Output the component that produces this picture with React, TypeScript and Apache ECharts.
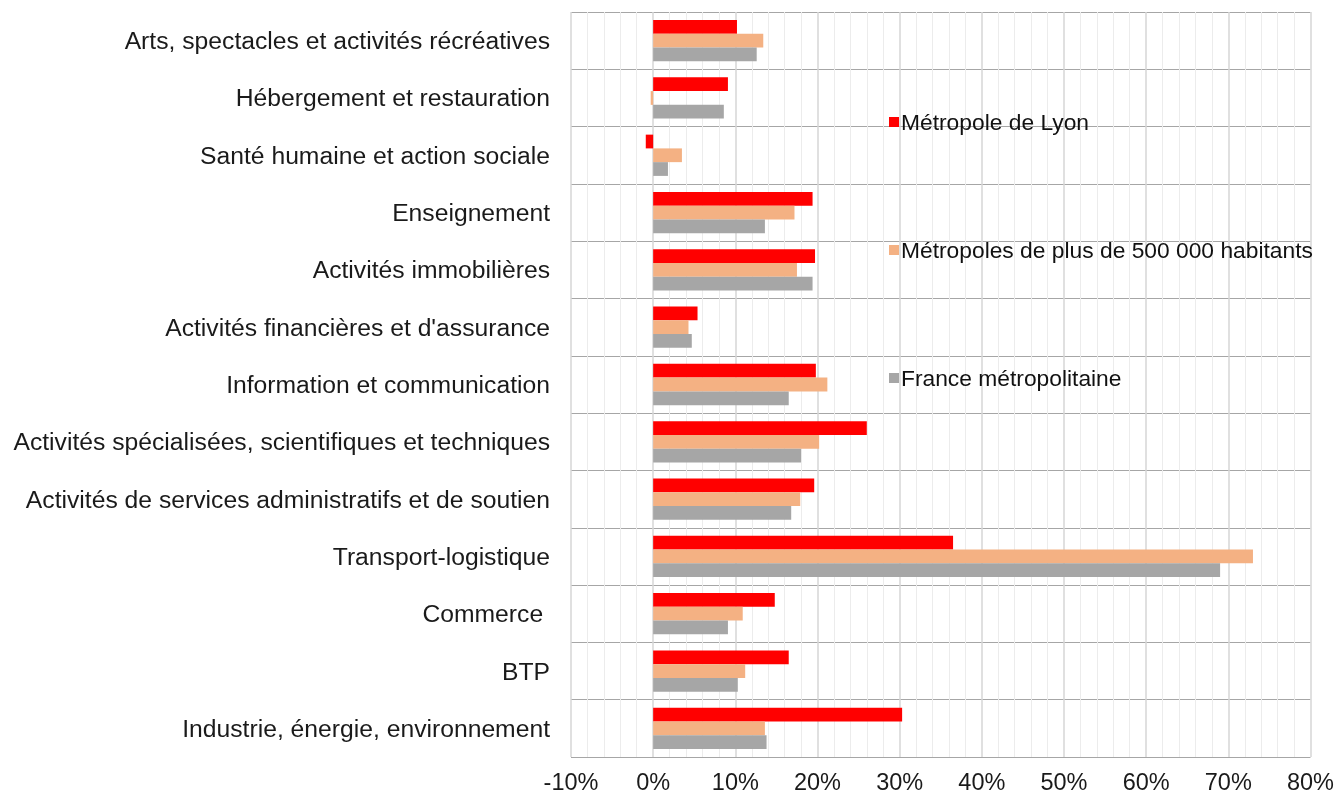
import React, { useEffect, useRef } from "react";
import * as echarts from "echarts";

const categories = [
  "Arts, spectacles et activités récréatives",
  "Hébergement et restauration",
  "Santé humaine et action sociale",
  "Enseignement",
  "Activités immobilières",
  "Activités financières et d'assurance",
  "Information et communication",
  "Activités spécialisées, scientifiques et techniques",
  "Activités de services administratifs et de soutien",
  "Transport-logistique",
  "Commerce ",
  "BTP",
  "Industrie, énergie, environnement",
];

const seriesNames = [
  "Métropole de Lyon",
  "Métropoles de plus de 500 000 habitants",
  "France métropolitaine",
];

const lyon = [10.2, 9.1, -0.9, 19.4, 19.7, 5.4, 19.8, 26.0, 19.6, 36.5, 14.8, 16.5, 30.3];
const metropoles = [13.4, -0.3, 3.5, 17.2, 17.5, 4.3, 21.2, 20.2, 17.9, 73.0, 10.9, 11.2, 13.6];
const france = [12.6, 8.6, 1.8, 13.6, 19.4, 4.7, 16.5, 18.0, 16.8, 69.0, 9.1, 10.3, 13.8];

const colors = ["#FF0000", "#F4B183", "#A6A6A6"];

export default function App() {
  const ref = useRef<HTMLDivElement>(null);
  useEffect(() => {
    if (!ref.current) return;
    const chart = echarts.init(ref.current, undefined, { renderer: "svg" });
    const font = "'Liberation Sans', Arial, sans-serif";
    const data = [lyon, metropoles, france];
    chart.setOption({
      animation: false,
      textStyle: { fontFamily: font },
      grid: { left: 571, right: 25, top: 12, bottom: 41, containLabel: false },
      legend: {
        orient: "vertical",
        left: 884,
        top: 105,
        itemWidth: 10,
        itemHeight: 10,
        itemGap: 104,
        icon: "rect",
        data: seriesNames,
        textStyle: { fontSize: 22.8, color: "#111111", fontFamily: font, lineHeight: 24, padding: [0, 0, 0, -3] },
      },
      xAxis: {
        type: "value",
        min: -10,
        max: 80,
        interval: 10,
        axisLabel: {
          formatter: "{value}%",
          fontSize: 23.5,
          color: "#1a1a1a",
          margin: 13,
          fontFamily: font,
        },
        axisLine: { show: false },
        axisTick: { show: false },
        splitLine: { show: true, lineStyle: { color: "#d6d6d6", width: 1.5 } },
        minorTick: { show: false, splitNumber: 5 },
        minorSplitLine: { show: true, lineStyle: { color: "#ececec", width: 1 } },
      },
      yAxis: {
        type: "category",
        data: categories,
        inverse: true,
        axisLine: { show: false, onZero: false },
        axisTick: { show: false },
        axisLabel: { fontSize: 24.7, color: "#1a1a1a", margin: 21, fontFamily: font },
        splitLine: { show: true, lineStyle: { color: "#a6a6a6", width: 1 } },
      },
      series: seriesNames.map((name, i) => ({
        name,
        type: "bar",
        data: data[i],
        barGap: "0%",
        barCategoryGap: "28%",
        itemStyle: { color: colors[i] },
      })),
    });
    return () => chart.dispose();
  }, []);
  return <div ref={ref} style={{ position: "fixed", left: 0, top: 0, width: 1337, height: 798 }} />;
}
